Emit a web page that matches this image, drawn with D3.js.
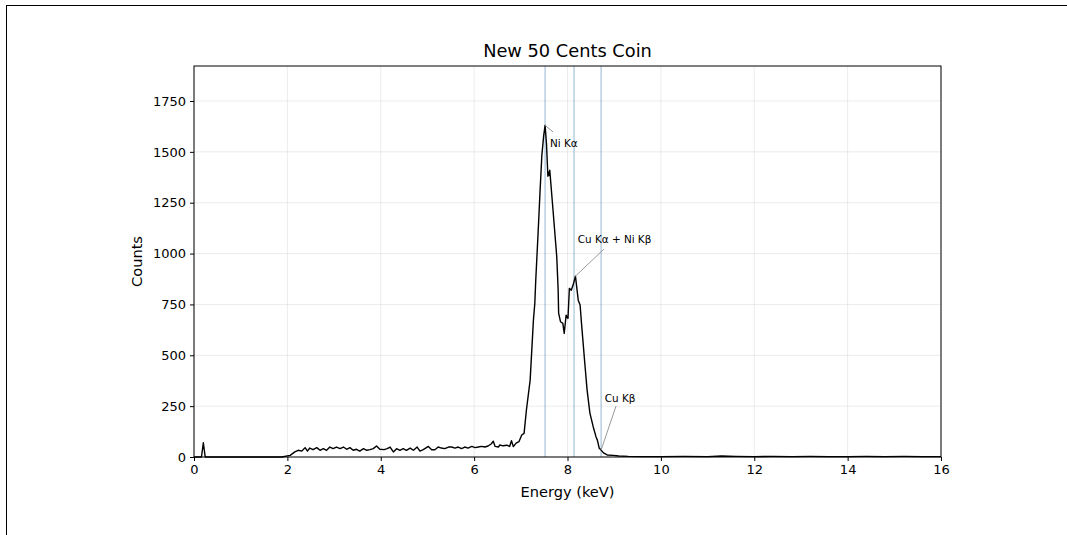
<!DOCTYPE html>
<html><head><meta charset="utf-8">
<script src="https://cdn.jsdelivr.net/npm/d3@7"></script>
<style>body{margin:0;background:#fff;}svg{display:block;font-family:"DejaVu Sans",sans-serif;}</style>
</head><body><svg id="c" width="1067" height="535"></svg>
<script>
const energy = [0,0.12,0.16,0.20,0.24,0.28,1.0,1.88,2.06,2.16,2.23,2.31,2.38,2.43,2.48,2.55,2.63,2.70,2.77,2.84,2.91,2.98,3.05,3.13,3.20,3.27,3.34,3.41,3.48,3.55,3.63,3.70,3.77,3.84,3.91,3.98,4.07,4.14,4.20,4.27,4.34,4.41,4.48,4.55,4.63,4.70,4.78,4.84,4.91,5.02,5.09,5.16,5.23,5.30,5.37,5.45,5.52,5.59,5.66,5.73,5.80,5.87,5.95,6.02,6.09,6.16,6.23,6.30,6.37,6.41,6.45,6.52,6.55,6.62,6.70,6.76,6.80,6.84,6.90,6.96,7.02,7.07,7.12,7.20,7.27,7.30,7.32,7.37,7.41,7.45,7.49,7.52,7.55,7.58,7.59,7.61,7.62,7.69,7.77,7.80,7.81,7.85,7.90,7.93,7.97,8.01,8.04,8.08,8.12,8.17,8.23,8.27,8.30,8.37,8.42,8.48,8.55,8.61,8.64,8.68,8.72,8.77,8.85,8.98,9.1,9.3,9.6,10.0,10.5,11.0,11.3,11.6,12.0,12.4,12.8,13.2,13.6,14.0,14.4,14.8,15.2,15.6,16.0];
const counts = [0,0,0,70,0,0,0,0,8,25,33,29,46,29,44,36,46,33,41,33,49,41,49,41,49,38,46,33,38,29,41,33,36,41,54,38,36,41,49,25,41,33,41,33,44,33,49,29,36,52,36,36,49,44,41,49,49,44,49,41,49,44,52,46,49,52,49,54,65,78,52,49,59,55,58,52,80,51,68,75,108,116,231,378,673,756,869,1100,1297,1480,1580,1630,1540,1380,1401,1385,1410,1213,984,820,707,665,657,608,697,681,829,820,845,889,771,747,657,462,329,216,149,100,83,43,34,20,10,8,5,3,2,2,3,2,5,3,2,3,2,3,2,2,3,2,3,2,2];
const xTicks = [0,2,4,6,8,10,12,14,16];
const yTicks = [0,250,500,750,1000,1250,1500,1750];
const lineEnergies = [7.52,8.14,8.72];
const annLabels = ["Ni Kα","Cu Kα + Ni Kβ","Cu Kβ"];
const annPoint = [[7.52,1630],[8.17,889],[8.72,34]];
const annLineEnd = [[7.69,1598],[8.78,1022],[9.04,251]];
const annText = [[7.625,1524],[8.22,1052],[8.80,270]];

const svg = d3.select("#c");
svg.append("rect").attr("x",6.5).attr("y",5.5).attr("width",1080).attr("height",560)
  .attr("fill","none").attr("stroke","#000").attr("stroke-width",1);
const L=194,R=941,T=66,B=457;
const x = d3.scaleLinear().domain([0,16]).range([L,R]);
const y = d3.scaleLinear().domain([0,1922]).range([B,T]);
const g = svg.append("g");
// grid
g.selectAll(".gx").data(xTicks).join("line").attr("x1",d=>x(d)).attr("x2",d=>x(d)).attr("y1",T).attr("y2",B)
 .attr("stroke","#b0b0b0").attr("stroke-opacity",0.3).attr("stroke-width",0.8);
g.selectAll(".gy").data(yTicks).join("line").attr("y1",d=>y(d)).attr("y2",d=>y(d)).attr("x1",L).attr("x2",R)
 .attr("stroke","#b0b0b0").attr("stroke-opacity",0.3).attr("stroke-width",0.8);
// vertical reference lines
g.selectAll(".vl").data(lineEnergies).join("line").attr("x1",d=>x(d)).attr("x2",d=>x(d)).attr("y1",T).attr("y2",B)
 .attr("stroke","#4682b4").attr("stroke-opacity",0.45).attr("stroke-width",1.3);
// spectrum
const pts = energy.map((e,i)=>[e,counts[i]]);
g.append("path").datum(pts).attr("fill","none").attr("stroke","#000").attr("stroke-width",1.4)
 .attr("stroke-linejoin","round")
 .attr("d",d3.line().x(d=>x(d[0])).y(d=>y(d[1])));
// annotations
annLabels.forEach((t,i)=>{
  g.append("line").attr("x1",x(annPoint[i][0])).attr("y1",y(annPoint[i][1]))
   .attr("x2",x(annLineEnd[i][0])).attr("y2",y(annLineEnd[i][1]))
   .attr("stroke","#999").attr("stroke-width",1);
  g.append("text").attr("x",x(annText[i][0])).attr("y",y(annText[i][1])).attr("font-size","10.4px").attr("fill","#000").text(t);
});
// frame
g.append("rect").attr("x",L).attr("y",T).attr("width",R-L).attr("height",B-T).attr("fill","none").attr("stroke","#000").attr("stroke-width",1);
// axes
const xa = svg.append("g").attr("transform",`translate(0,${B})`).call(d3.axisBottom(x).tickValues(xTicks).tickSize(4).tickPadding(4).tickFormat(d3.format("d")));
const ya = svg.append("g").attr("transform",`translate(${L},0)`).call(d3.axisLeft(y).tickValues(yTicks).tickSize(4).tickPadding(4).tickFormat(d3.format("d")));
[xa,ya].forEach(a=>{a.select(".domain").remove();a.selectAll("text").attr("font-size","13px").attr("font-family","DejaVu Sans").attr("fill","#000");a.selectAll("line").attr("stroke","#000");});
svg.append("text").attr("x",(L+R)/2).attr("y",57).attr("text-anchor","middle").attr("font-size","17.8px").text("New 50 Cents Coin");
svg.append("text").attr("x",(L+R)/2).attr("y",497).attr("text-anchor","middle").attr("font-size","14.6px").text("Energy (keV)");
svg.append("text").attr("transform",`translate(142,${(T+B)/2}) rotate(-90)`).attr("text-anchor","middle").attr("font-size","14.6px").text("Counts");
</script></body></html>
